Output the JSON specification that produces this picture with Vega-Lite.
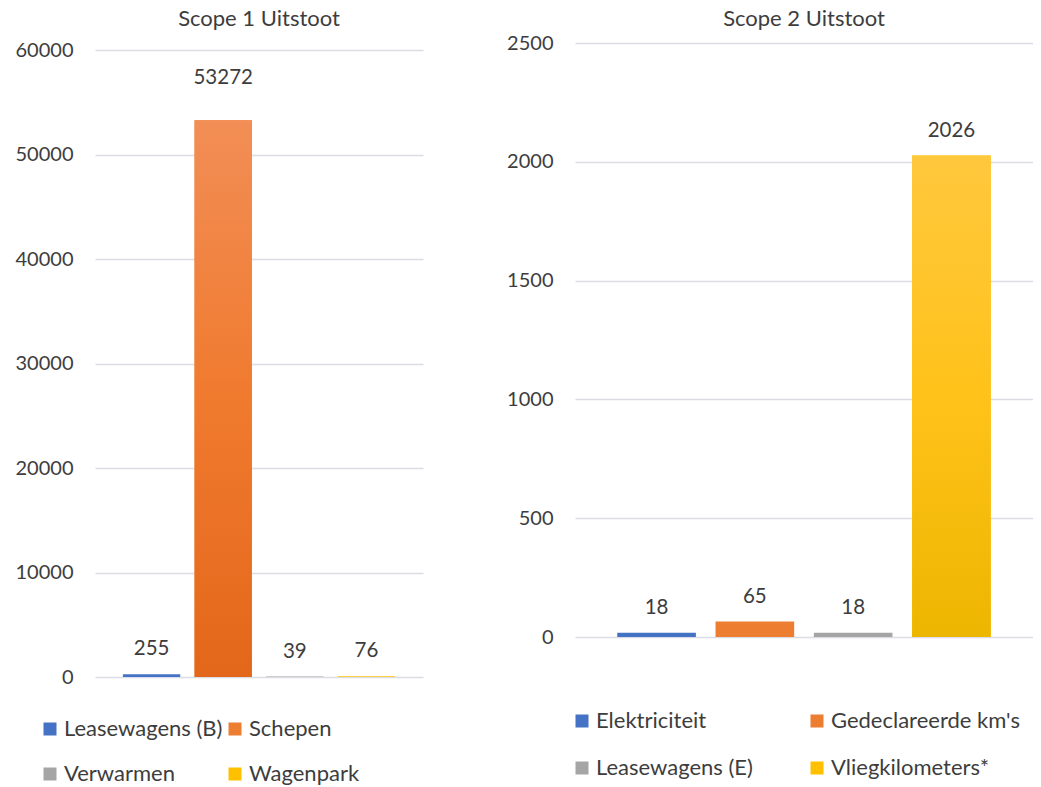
{
  "$schema": "https://vega.github.io/schema/vega-lite/v6.json",
  "background": "white",
  "padding": {"left": 15, "top": 8, "right": 0, "bottom": 0},
  "config": {
    "font": "Lato",
    "view": {"stroke": null},
    "concat": {"spacing": 83},
    "title": {"fontSize": 22, "fontWeight": "normal", "color": "#3d3d3d", "anchor": "middle"},
    "axisY": {"domain": false, "ticks": false, "labelPadding": 22, "gridColor": "#DADCE6", "gridWidth": 1.5, "labelFontSize": 20, "labelColor": "#3d3d3d", "title": null, "format": "d"},
    "legend": {"title": null, "orient": "none", "direction": "horizontal", "columns": 2, "symbolType": "square", "symbolSize": 169, "symbolStrokeWidth": 0, "labelFontSize": 22, "labelColor": "#3d3d3d", "labelLimit": 400, "labelOffset": 3}
  },
  "resolve": {"scale": {"color": "independent"}, "legend": {"color": "independent"}},
  "hconcat": [
    {
      "width": 328,
      "height": 634,
      "title": {"text": "Scope 1 Uitstoot", "offset": 9},
      "data": {"values": [
        {"categorie": "Leasewagens (B)", "uitstoot": 255},
        {"categorie": "Schepen", "uitstoot": 53272},
        {"categorie": "Verwarmen", "uitstoot": 39},
        {"categorie": "Wagenpark", "uitstoot": 76}
      ]},
      "encoding": {
        "x": {"field": "categorie", "type": "nominal", "sort": null, "axis": null, "scale": {"paddingInner": 0.2, "paddingOuter": 0.39}},
        "y": {"field": "uitstoot", "type": "quantitative", "scale": {"domain": [0, 60670], "nice": false}, "axis": {"values": [0, 10000, 20000, 30000, 40000, 50000, 60000]}}
      },
      "layer": [
        {
          "mark": {"type": "bar"},
          "encoding": {
            "color": {"field": "categorie", "type": "nominal", "sort": null,
              "scale": {"domain": ["Leasewagens (B)", "Schepen", "Verwarmen", "Wagenpark"], "range": ["#4472C4", "#ED7D31", "#A5A5A5", "#FFC000"]},
              "legend": {"legendX": -56, "legendY": 675, "columnPadding": 1, "rowPadding": 23}}
          }
        },
        {
          "transform": [{"filter": "datum.categorie === 'Schepen'"}],
          "mark": {"type": "bar", "color": {"gradient": "linear", "x1": 0, "y1": 0, "x2": 0, "y2": 1, "stops": [{"offset": 0, "color": "#F28E56"}, {"offset": 0.5, "color": "#F07A2E"}, {"offset": 1, "color": "#E3671B"}]}}
        },
        {
          "transform": [{"filter": "datum.categorie !== 'Schepen'"}],
          "mark": {"type": "text", "dy": -25, "fontSize": 20.5, "color": "#3d3d3d"},
          "encoding": {"text": {"field": "uitstoot", "type": "quantitative", "format": "d"}}
        },
        {
          "transform": [{"filter": "datum.categorie === 'Schepen'"}],
          "mark": {"type": "text", "dy": -42, "fontSize": 20.5, "color": "#3d3d3d"},
          "encoding": {"text": {"field": "uitstoot", "type": "quantitative", "format": "d"}}
        }
      ]
    },
    {
      "width": 458,
      "height": 594,
      "title": {"text": "Scope 2 Uitstoot", "offset": 2},
      "data": {"values": [
        {"categorie": "Elektriciteit", "uitstoot": 18},
        {"categorie": "Gedeclareerde km's", "uitstoot": 65},
        {"categorie": "Leasewagens (E)", "uitstoot": 18},
        {"categorie": "Vliegkilometers*", "uitstoot": 2026}
      ]},
      "encoding": {
        "x": {"field": "categorie", "type": "nominal", "sort": null, "axis": null, "scale": {"paddingInner": 0.2, "paddingOuter": 0.43}},
        "y": {"field": "uitstoot", "type": "quantitative", "scale": {"domain": [0, 2500], "nice": false}, "axis": {"values": [0, 500, 1000, 1500, 2000, 2500]}}
      },
      "layer": [
        {
          "mark": {"type": "bar"},
          "encoding": {
            "color": {"field": "categorie", "type": "nominal", "sort": null,
              "scale": {"domain": ["Elektriciteit", "Gedeclareerde km's", "Leasewagens (E)", "Vliegkilometers*"], "range": ["#4472C4", "#ED7D31", "#A5A5A5", "#FFC000"]},
              "legend": {"legendX": -4, "legendY": 667, "columnPadding": 53, "rowPadding": 25}}
          }
        },
        {
          "transform": [{"filter": "datum.categorie === 'Vliegkilometers*'"}],
          "mark": {"type": "bar", "color": {"gradient": "linear", "x1": 0, "y1": 0, "x2": 0, "y2": 1, "stops": [{"offset": 0, "color": "#FFC83D"}, {"offset": 0.5, "color": "#FFC21A"}, {"offset": 1, "color": "#EDB600"}]}}
        },
        {
          "mark": {"type": "text", "dy": -25, "fontSize": 20.5, "color": "#3d3d3d"},
          "encoding": {"text": {"field": "uitstoot", "type": "quantitative", "format": "d"}}
        }
      ]
    }
  ]
}
